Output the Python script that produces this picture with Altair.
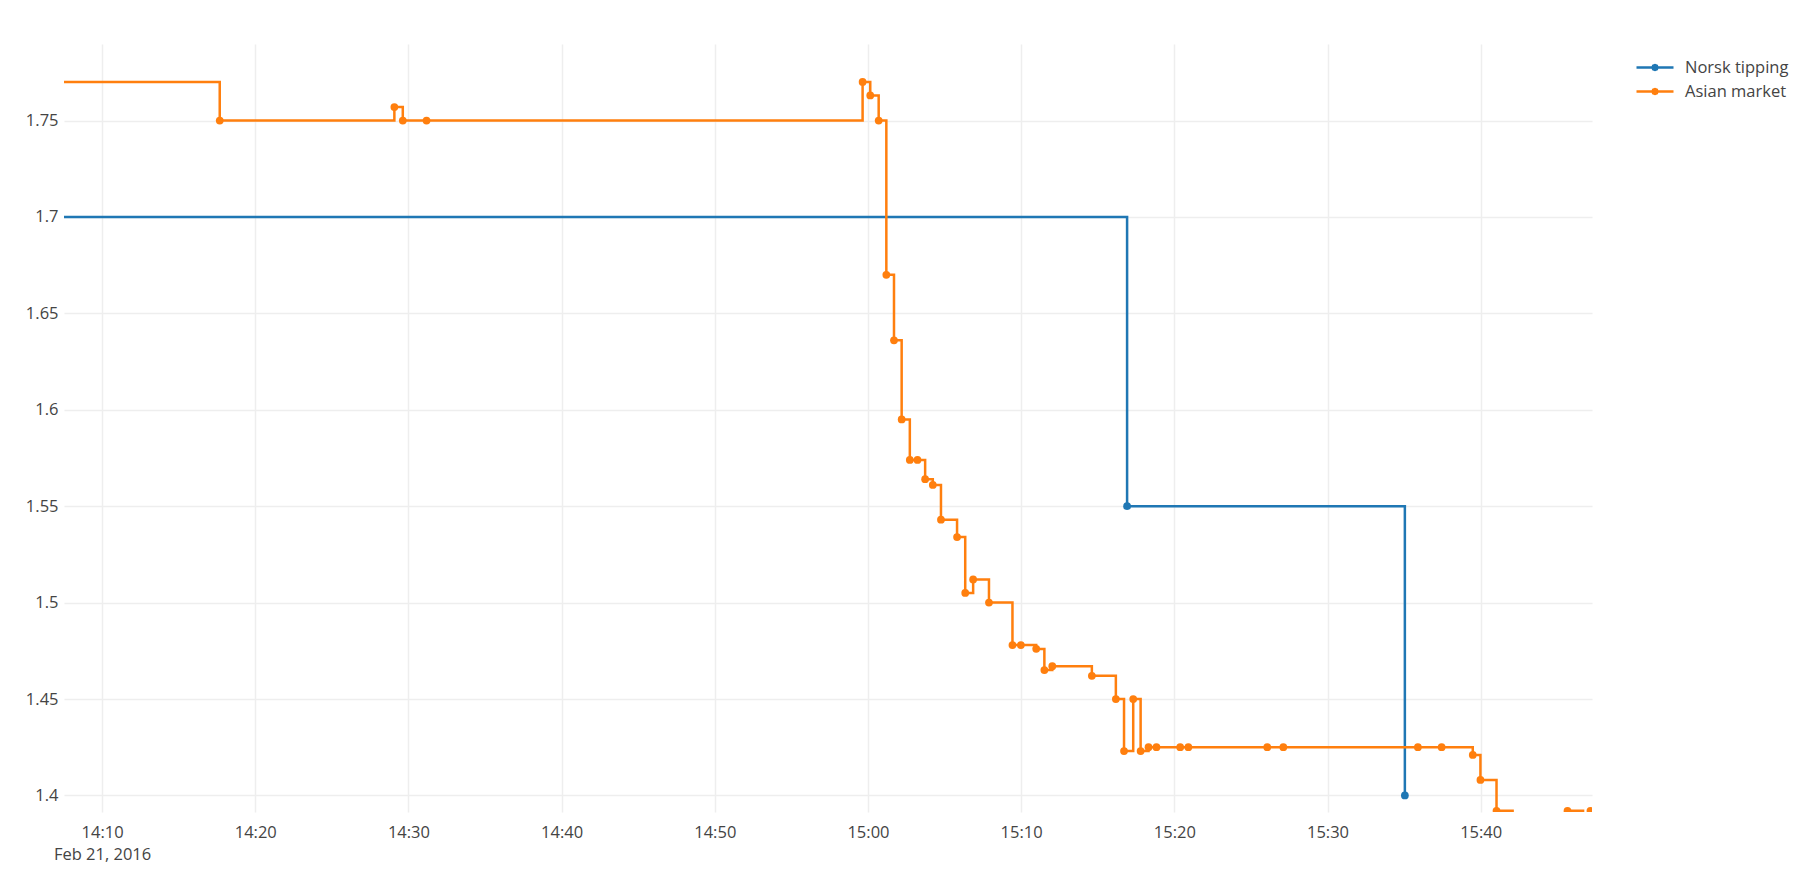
import altair as alt
import pandas as pd

DATE = "2016-02-21"

norsk_times = ["14:05:00", "15:16:55", "15:35:03"]
norsk_values = [1.70, 1.55, 1.40]

asian_times = ["14:05:00", "14:17:41", "14:29:05", "14:29:38", "14:31:11", "14:59:39",
               "15:00:09", "15:00:42", "15:01:12", "15:01:42", "15:02:12", "15:02:44",
               "15:03:14", "15:03:44", "15:04:14", "15:04:46", "15:05:49", "15:06:21",
               "15:06:52", "15:07:54", "15:09:26", "15:09:59", "15:10:59", "15:11:31",
               "15:12:02", "15:14:37", "15:16:11", "15:16:43", "15:17:19", "15:17:48",
               "15:18:19", "15:18:50", "15:20:23", "15:20:55", "15:26:04", "15:27:07",
               "15:35:54", "15:37:27", "15:39:29", "15:39:59", "15:41:02", "15:42:05",
               "15:45:40", "15:46:41", "15:47:10"]
asian_values = [1.77, 1.75, 1.757, 1.75, 1.75, 1.77,
                1.763, 1.75, 1.67, 1.636, 1.595, 1.574,
                1.574, 1.564, 1.561, 1.543, 1.534, 1.505,
                1.512, 1.50, 1.478, 1.478, 1.476, 1.465,
                1.467, 1.462, 1.45, 1.423, 1.45, 1.423,
                1.425, 1.425, 1.425, 1.425, 1.425, 1.425,
                1.425, 1.425, 1.421, 1.408, 1.392, 1.385,
                1.392, 1.385, 1.392]

series_names = ["Norsk tipping", "Asian market"]
series_colors = ["#1f77b4", "#ff7f0e"]
y_ticks = [1.4, 1.45, 1.5, 1.55, 1.6, 1.65, 1.7, 1.75]
x_ticks = ["14:10", "14:20", "14:30", "14:40", "14:50", "15:00", "15:10", "15:20", "15:30", "15:40"]
x_range = ["14:07:31", "15:47:16"]


def ms(t):
    return int(pd.Timestamp(f"{DATE}T{t}Z").value // 10**6)


rows = []
for t, v in zip(norsk_times, norsk_values):
    rows.append({"time": ms(t), "odds": v, "series": series_names[0]})
for t, v in zip(asian_times, asian_values):
    rows.append({"time": ms(t), "odds": v, "series": series_names[1]})
df = pd.DataFrame(rows)

FONT = "Open Sans"
TXT = "#444444"

x_enc = alt.X(
    "time:T",
    scale=alt.Scale(type="utc", domain=[ms(x_range[0]), ms(x_range[1])], nice=False),
    axis=alt.Axis(
        title=None, domain=False, ticks=False, grid=True, gridColor="#eeeeee", gridWidth=1.5,
        values=[ms(t) for t in x_ticks],
        labelExpr="datum.index == 0 ? [utcFormat(datum.value, '%H:%M'), utcFormat(datum.value, '%b %d, %Y')] : utcFormat(datum.value, '%H:%M')",
        labelFont=FONT, labelFontSize=16.5, labelColor=TXT, labelPadding=12,
        labelLineHeight=22, labelOverlap=False, labelFlush=False,
    ),
)
y_enc = alt.Y(
    "odds:Q",
    scale=alt.Scale(domain=[1.3914, 1.7897], nice=False, zero=False),
    axis=alt.Axis(
        title=None, domain=False, ticks=False, grid=True, gridColor="#eeeeee", gridWidth=1.5,
        values=y_ticks, format="~g",
        labelFont=FONT, labelFontSize=16.5, labelColor=TXT, labelPadding=6,
    ),
)
color_scale = alt.Scale(domain=series_names, range=series_colors)

legend_path = ("M-1.85,0L1.85,0M0.25,0L0.18,0.18L0,0.25L-0.18,0.18L-0.25,0"
               "L-0.18,-0.18L0,-0.25L0.18,-0.18Z")

lines = alt.Chart(df).mark_line(interpolate="step-after", strokeWidth=2.5, clip=True).encode(
    x=x_enc, y=y_enc,
    color=alt.Color(
        "series:N", scale=color_scale, sort=series_names,
        legend=alt.Legend(
            title=None, orient="none", legendX=1579.5, legendY=12, padding=0,
            symbolType=legend_path, symbolSize=400, symbolStrokeWidth=2.5, symbolOpacity=1,
            labelFont=FONT, labelFontSize=16.5, labelColor=TXT, labelOffset=18.5,
            labelLimit=400,
        ),
    ),
)

points = alt.Chart(df).mark_point(filled=True, size=60, opacity=1, clip=True).encode(
    x=x_enc, y=y_enc,
    color=alt.Color("series:N", scale=color_scale, legend=None),
)

chart = alt.layer(lines, points).properties(
    width=1528, height=768,
    background="white",
    autosize=alt.AutoSizeParams(type="none"),
    padding={"left": 56, "top": 36, "right": 210, "bottom": 52},
).configure_view(strokeWidth=0).configure_legend(rowPadding=4)

chart.save("out.html", embed_options={"renderer": "svg", "actions": False})
